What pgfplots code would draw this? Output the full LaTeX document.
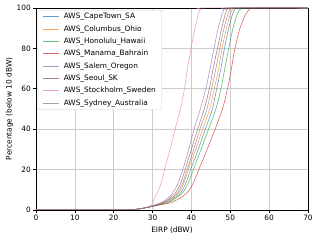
\documentclass[border=0pt]{standalone}
\usepackage{fontspec}
\setmainfont{DejaVu Sans}
\usepackage{pgfplots}
\pgfplotsset{compat=1.18}
\definecolor{c0}{HTML}{1f77b4}
\definecolor{c1}{HTML}{ff7f0e}
\definecolor{c2}{HTML}{2ca02c}
\definecolor{c3}{HTML}{d62728}
\definecolor{c4}{HTML}{9467bd}
\definecolor{c5}{HTML}{8c564b}
\definecolor{c6}{HTML}{e377c2}
\definecolor{c7}{HTML}{7f7f7f}
\begin{document}
\begin{tikzpicture}
\path[use as bounding box] (-48.7pt,-40.6pt) rectangle (383.3pt,284.3pt);
\begin{axis}[
  at={(0,0)}, anchor=south west,
  scale only axis,
  width=368.4pt, height=273.5pt,
  xmin=0, xmax=70, ymin=0, ymax=100,
  xtick={0,10,...,70}, ytick={0,20,...,100},
  /pgf/number format/assume math mode=true,
  tick label style={font=\fontsize{10}{12}\selectfont},
  label style={font=\fontsize{10}{12}\selectfont},
  xlabel={EIRP (dBW)},
  ylabel={Percentage (below 10 dBW)},
  xlabel style={yshift=-1pt},
  ylabel style={yshift=-2pt},
  grid=major,
  major grid style={color=black!20, line width=0.8pt},
  axis line style={line width=0.8pt},
  tick align=outside, tick pos=left,
  major tick length=3.5pt,
  every tick/.style={black, line width=0.8pt},
  legend style={at={(0,1)}, xshift=2.7pt, yshift=-2.7pt, anchor=north west, draw=black!20, rounded corners=2pt, font=\fontsize{10}{12}\selectfont, row sep=3.6pt, inner xsep=6pt, inner ysep=2.5pt},
  legend cell align=left,
  legend image code/.code={\draw[#1] (0pt,0pt) -- (22pt,0pt); \path (26pt,0pt);},
  every axis plot/.append style={line width=0.8pt, opacity=0.7, smooth, tension=0.45},
]
\addplot[c0] coordinates {(0,0)(22,0)(26.5,0.5)(30.3,2)(34,4)(37.0,8)(38.5,13)(39.8,20)(41.75,30)(43.6,40)(45.4,50)(46.5,60)(47.6,70)(48.5,80)(49.6,90)(50.6,97)(51.2,99.3)(51.9,100)(70,100)};
\addlegendentry{AWS\_CapeTown\_SA}
\addplot[c1] coordinates {(0,0)(22,0)(26.5,0.5)(30.2,2)(33.7,4.1)(36.5,8)(38.0,13)(39.2,20)(41.1,30)(42.9,40)(44.7,50)(45.9,60)(47.0,70)(47.9,80)(49.0,90)(50.0,97)(50.6,99.3)(51.2,100)(70,100)};
\addlegendentry{AWS\_Columbus\_Ohio}
\addplot[c2] coordinates {(0,0)(22,0)(26.5,0.5)(30.4,2)(34.3,3.9)(37.5,8)(39.1,13)(40.5,20)(42.5,30)(44.4,40)(46.3,50)(47.6,60)(48.6,70)(49.6,80)(50.7,90)(51.8,97)(52.6,99.3)(53.5,100)(70,100)};
\addlegendentry{AWS\_Honolulu\_Hawaii}
\addplot[c3] coordinates {(0,0)(22,0)(26.5,0.5)(30.6,2)(35,3.8)(38.6,8)(40.4,13)(41.9,20)(44.05,30)(46.1,40)(48.0,50)(49.3,60)(50.3,70)(51.2,80)(52.5,90)(54.0,97)(55.0,99.3)(56.0,100)(70,100)};
\addlegendentry{AWS\_Manama\_Bahrain}
\addplot[c4] coordinates {(0,0)(22,0)(26.5,0.5)(30.0,2)(33,4.5)(35.0,8)(36.5,13)(37.8,20)(39.3,30)(40.7,40)(42.3,50)(43.7,60)(44.8,70)(45.8,80)(46.9,90)(47.9,97)(48.4,99.3)(49.0,100)(70,100)};
\addlegendentry{AWS\_Salem\_Oregon}
\addplot[c5] coordinates {(0,0)(22,0)(26.5,0.5)(30.1,2)(33.3,4.3)(35.7,8)(37.2,13)(38.4,20)(40.0,30)(41.6,40)(43.3,50)(44.6,60)(45.6,70)(46.7,80)(47.8,90)(48.7,97)(49.2,99.3)(49.8,100)(70,100)};
\addlegendentry{AWS\_Seoul\_SK}
\addplot[c6] coordinates {(0,0)(22,0)(26.5,0.5)(29.5,2)(30.3,5)(31.1,8)(32.2,13)(33.1,20)(34.5,30)(35.8,40)(37.2,50)(38.2,60)(39.0,70)(39.9,80)(40.9,90)(41.8,97)(42.3,99.3)(43.0,100)(70,100)};
\addlegendentry{AWS\_Stockholm\_Sweden}
\addplot[c7] coordinates {(0,0)(22,0)(26.5,0.5)(30.2,2)(33.5,4.2)(36.2,8)(37.7,13)(38.9,20)(40.6,30)(42.2,40)(44.0,50)(45.2,60)(46.3,70)(47.3,80)(48.4,90)(49.4,97)(49.9,99.3)(50.4,100)(70,100)};
\addlegendentry{AWS\_Sydney\_Australia}
\end{axis}
\end{tikzpicture}
\end{document}
